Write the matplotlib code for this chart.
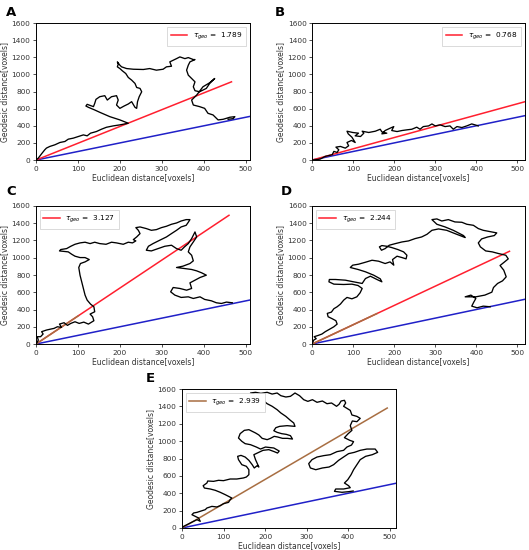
import matplotlib
matplotlib.use("Agg")
import matplotlib.pyplot as plt

# ---- data (Euclidean vs geodesic distance, voxels) ----
panel_letters = ["A", "B", "C", "D", "E"]
tau_values = ["1.789", "0.768", "3.127", "2.244", "2.939"]

curve_a_x = [0, 5.6, 13.5, 21, 25, 33, 45, 57, 69, 77, 89, 101, 113, 122, 130, 144, 156, 168, 184, 200, 220,
             200, 176, 152, 140, 125, 119, 122, 137, 140, 143, 152, 164, 170, 180, 192, 196, 192, 200, 210, 220,
             228, 236, 240, 242, 246, 252, 248, 240, 236, 228, 220, 214, 206, 200, 194, 196, 194, 200, 204, 216,
             232, 256, 271, 287, 303, 311, 323, 319, 327, 335, 343, 355, 363, 375, 379, 367, 363, 359, 363, 371,
             379, 375, 379, 390, 406, 414, 426, 414, 398, 383, 371, 375, 390, 402, 410, 422, 434, 446, 462, 474,
             470, 458]
curve_a_y = [0, 23, 74, 120, 140, 159, 178, 205, 217, 244, 256, 275, 294, 283, 314, 333, 360, 383, 399, 411, 430,
             469, 507, 558, 585, 616, 631, 651, 624, 662, 709, 740, 752, 701, 740, 752, 701, 643, 604, 631, 655,
             682, 616, 604, 682, 740, 798, 837, 848, 895, 934, 965, 1011, 1042, 1069, 1089, 1120, 1147, 1108, 1089,
             1069, 1061, 1058, 1069, 1050, 1061, 1089, 1096, 1147, 1166, 1185, 1205, 1185, 1197, 1174, 1174, 1147,
             1108, 1050, 992, 953, 914, 856, 810, 798, 837, 895, 953, 903, 856, 759, 701, 643, 624, 604, 546, 527,
             469, 476, 500, 507, 484, 476]

curve_b_x = [0, 10, 20, 32, 49, 53, 61, 65, 58, 69, 81, 89, 85, 96, 105, 97, 88, 85, 99, 113, 105, 118, 126,
             122, 138, 154, 166, 170, 182, 170, 178, 190, 199, 194, 207, 219, 231, 243, 255, 263, 271, 284, 292,
             300, 312, 324, 336, 344, 353, 365, 377, 389, 397, 405]
curve_b_y = [0, 5, 12, 43, 62, 101, 89, 120, 151, 159, 139, 167, 205, 229, 205, 267, 306, 337, 322, 314, 283,
             275, 314, 337, 322, 337, 360, 329, 314, 306, 345, 372, 391, 345, 333, 345, 353, 360, 384, 360, 391,
             399, 422, 399, 411, 391, 399, 360, 391, 380, 399, 422, 411, 399]

curve_c_x = [0, 1.6, 5.6, 3, 11, 17, 13.5, 25, 35, 43, 51, 61, 56, 67, 75, 83, 93, 103, 114, 125, 138, 135,
             129, 140, 138, 130, 122, 117, 113, 109, 105, 102, 106, 117, 127, 117, 105, 93, 85, 77, 56, 59, 73,
             83, 93, 105, 117, 129, 140, 152, 167, 180, 192, 208, 220, 230, 238, 232, 240, 248, 244, 238, 248,
             263, 275, 287, 299, 311, 323, 335, 346, 358, 367, 363, 358, 346, 335, 323, 311, 295, 279, 268, 263,
             275, 291, 307, 323, 335, 346, 354, 363, 371, 379, 383, 375, 367, 363, 371, 375, 367, 350, 335, 354,
             371, 383, 395, 406, 391, 379, 367, 371, 359, 343, 327, 321, 331, 346, 363, 375, 391, 402, 418, 430,
             442, 454, 468]
curve_c_y = [0, 8, 46, 85, 85, 116, 143, 162, 173, 181, 200, 193, 231, 247, 216, 239, 258, 239, 254, 231, 270,
             316, 347, 374, 432, 463, 509, 567, 644, 721, 798, 887, 933, 952, 979, 1002, 1002, 1018, 1041, 1068,
             1079, 1095, 1106, 1133, 1156, 1172, 1180, 1164, 1180, 1164, 1156, 1180, 1172, 1156, 1180, 1172, 1195,
             1210, 1241, 1280, 1318, 1349, 1357, 1338, 1318, 1326, 1349, 1365, 1388, 1403, 1426, 1442, 1442, 1411,
             1376, 1357, 1318, 1280, 1241, 1203, 1164, 1133, 1087, 1079, 1106, 1133, 1145, 1106, 1087, 1126, 1164,
             1222, 1299, 1241, 1183, 1126, 1068, 1029, 964, 933, 902, 887, 875, 864, 848, 825, 798, 771, 740, 709,
             644, 624, 644, 655, 605, 567, 540, 547, 528, 547, 517, 501, 478, 470, 486, 478]

curve_d_x = [0, 4, 10, 5, 15, 24, 32, 42, 53, 61, 58, 49, 39, 37, 47, 53, 61, 69, 77, 85, 97, 109, 117, 122,
             112, 97, 77, 53, 41, 42, 57, 81, 101, 122, 130, 142, 158, 170, 166, 150, 130, 112, 93, 99, 113, 130,
             146, 162, 178, 190, 199, 196, 207, 219, 229, 231, 223, 209, 194, 182, 170, 164, 169, 178, 188, 203,
             219, 235, 251, 267, 280, 292, 308, 328, 348, 373, 369, 344, 324, 304, 292, 304, 316, 332, 348, 365,
             377, 393, 405, 417, 429, 450, 444, 428, 413, 405, 410, 423, 439, 454, 472, 478, 468, 458, 467, 473,
             464, 452, 442, 438, 421, 399, 373, 387, 399, 394, 389, 402, 417, 434]
curve_d_y = [0, 46, 62, 85, 100, 116, 143, 170, 200, 231, 270, 293, 316, 355, 370, 409, 432, 463, 509, 540, 524,
             547, 594, 644, 678, 694, 690, 694, 721, 748, 748, 740, 721, 702, 759, 786, 748, 721, 756, 798, 837,
             864, 887, 914, 925, 948, 971, 960, 933, 952, 914, 979, 1018, 1002, 987, 1029, 1068, 1095, 1118, 1133,
             1141, 1126, 1087, 1106, 1145, 1164, 1183, 1195, 1222, 1241, 1272, 1318, 1334, 1318, 1280, 1234, 1257,
             1318, 1357, 1388, 1442, 1450, 1426, 1442, 1415, 1411, 1388, 1376, 1338, 1318, 1307, 1288, 1257, 1241,
             1218, 1172, 1126, 1079, 1068, 1049, 1029, 987, 948, 910, 856, 779, 732, 702, 655, 601, 567, 547, 547,
             567, 528, 486, 439, 420, 439, 432]

curve_e_x = [0, 4, 12, 20, 28, 36, 44, 40, 32, 24, 28, 36, 44, 56, 60, 72, 84, 92, 100, 112, 116, 120, 112,
             104, 92, 80, 68, 54, 51, 60, 62, 76, 88, 100, 116, 132, 148, 155, 161, 161, 155, 144, 136, 134, 142,
             152, 161, 169, 174, 181, 185, 177, 173, 185, 195, 209, 222, 230, 234, 221, 201, 189, 179, 165, 152,
             144, 136, 140, 150, 161, 169, 177, 185, 193, 205, 213, 222, 230, 242, 254, 266, 261, 251, 240, 229,
             221, 226, 235, 253, 272, 269, 261, 250, 238, 229, 217, 205, 193, 182, 173, 165, 177, 190, 205, 217,
             229, 238, 250, 261, 272, 283, 293, 303, 314, 325, 338, 349, 360, 372, 378, 383, 391, 394, 389, 397,
             405, 409, 421, 429, 421, 410, 405, 409, 400, 391, 404, 413, 408, 397, 389, 373, 357, 341, 325, 313,
             305, 309, 322, 338, 354, 365, 377, 389, 401, 415, 429, 445, 465, 471, 458, 442, 429, 421, 413, 407,
             399, 391, 401, 405, 389, 370, 367, 385, 401, 412]
curve_e_y = [0, 19, 38, 58, 77, 96, 77, 115, 134, 153, 173, 180, 192, 211, 230, 249, 242, 257, 280, 295, 326,
             345, 365, 384, 411, 434, 449, 460, 487, 518, 541, 537, 549, 545, 564, 564, 576, 587, 614, 671, 710,
             729, 787, 825, 836, 817, 779, 729, 691, 718, 702, 787, 844, 871, 894, 902, 879, 863, 886, 921, 932,
             909, 932, 959, 971, 998, 1036, 1086, 1124, 1132, 1113, 1094, 1071, 1032, 1017, 1032, 1055, 1048, 1032,
             1032, 1024, 1063, 1078, 1086, 1101, 1120, 1155, 1170, 1178, 1170, 1209, 1239, 1285, 1324, 1362, 1401,
             1431, 1477, 1516, 1542, 1554, 1562, 1550, 1562, 1542, 1554, 1523, 1508, 1516, 1554, 1523, 1477, 1458,
             1477, 1447, 1462, 1431, 1439, 1401, 1424, 1462, 1470, 1439, 1401, 1378, 1354, 1301, 1285, 1262, 1224,
             1232, 1178, 1124, 1086, 1040, 1009, 994, 955, 932, 894, 879, 844, 833, 817, 787, 741, 691, 671, 691,
             702, 729, 779, 817, 856, 871, 894, 909, 909, 871, 844, 825, 787, 729, 671, 614, 556, 518, 487, 464,
             449, 449, 422, 411, 418, 426]

curves_x = [curve_a_x, curve_b_x, curve_c_x, curve_d_x, curve_e_x]
curves_y = [curve_a_y, curve_b_y, curve_c_y, curve_d_y, curve_e_y]

# end points of the fitted (red / brown) line, and where the brown overlay stops
fit_end_x = [466, 519, 460, 481, 494]
fit_end_y = [914, 682, 1492, 1075, 1381]
brown_end_x = [0, 0, 101, 158, 494]
x_max = [510, 519, 510, 519, 515]
legend_loc = ["upper right", "upper right", "upper left", "upper left", "upper left"]

RED = "#ff1f2f"
BLUE = "#2020c8"
BROWN = "#a86e42"

# axes rectangles in figure fractions
positions = [
    [0.068, 0.709, 0.4045, 0.249],
    [0.590, 0.709, 0.4026, 0.249],
    [0.068, 0.3745, 0.4045, 0.251],
    [0.590, 0.3745, 0.4026, 0.251],
    [0.344, 0.040, 0.4045, 0.2527],
]
letter_xy = [(0.012, 0.990), (0.519, 0.990), (0.012, 0.664), (0.531, 0.664), (0.276, 0.323)]

fig = plt.figure(figsize=(5.29, 5.5), dpi=100)

for i in range(5):
    ax = fig.add_axes(positions[i])
    ax.plot(curves_x[i], curves_y[i], color="black", linewidth=0.95, zorder=3)
    ax.plot([0, x_max[i]], [0, x_max[i]], color=BLUE, linewidth=1.1, zorder=2)

    main_color = BROWN if i == 4 else RED
    ax.plot([0, fit_end_x[i]], [0, fit_end_y[i]], color=main_color, linewidth=1.1, zorder=2,
            label=r"$\tau_{geo}$ =  " + tau_values[i])
    if 0 < brown_end_x[i] < fit_end_x[i]:
        slope = fit_end_y[i] / fit_end_x[i]
        ax.plot([0, brown_end_x[i]], [0, brown_end_x[i] * slope], color=BROWN, linewidth=1.1, zorder=2)

    ax.set_xlim(0, x_max[i])
    ax.set_ylim(0, 1600)
    ax.set_xticks(range(0, 501, 100))
    ax.set_yticks(range(0, 1601, 200))
    ax.tick_params(labelsize=5.3, length=2.5, width=0.6, pad=1.5, colors="#333333")
    for sp in ax.spines.values():
        sp.set_linewidth(0.7)
    ax.set_xlabel("Euclidean distance[voxels]", fontsize=5.5, labelpad=1, color="#333333")
    ax.set_ylabel("Geodesic distance[voxels]", fontsize=5.5, labelpad=2, color="#333333")
    leg = ax.legend(loc=legend_loc[i], fontsize=5.3, handlelength=2.2, borderpad=0.5,
                    framealpha=1, fancybox=False)
    leg.get_frame().set_linewidth(0.5)

    fig.text(letter_xy[i][0], letter_xy[i][1], panel_letters[i], fontsize=9.5, fontweight="bold",
             va="top", ha="left")

fig.savefig("out.png", dpi=100)
